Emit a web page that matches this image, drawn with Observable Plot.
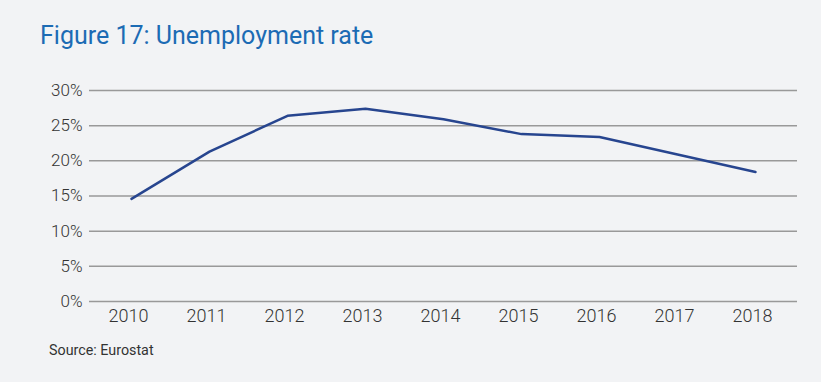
<!DOCTYPE html>
<html>
<head>
<meta charset="utf-8">
<script src="https://cdn.jsdelivr.net/npm/d3@7"></script>
<script src="https://cdn.jsdelivr.net/npm/@observablehq/plot@0.6"></script>
<style>
  html, body { margin: 0; padding: 0; background: #f2f3f5; }
  body { width: 821px; height: 382px; overflow: hidden; font-family: Roboto, "Noto Sans", sans-serif; }
  #title { height: 62px; box-sizing: border-box; padding: 23px 0 0 40px; font-size: 25px; color: #1c6bb4; line-height: 26px; }
  #chart svg { display: block; }
  #caption { padding: 10px 0 0 49px; font-size: 14.3px; color: #333; }
</style>
</head>
<body>
<div id="title">Figure 17: Unemployment rate</div>
<div id="chart"></div>
<div id="caption">Source: Eurostat</div>
<script>
const years = ["2010","2011","2012","2013","2014","2015","2016","2017","2018"];
const rates = [14.6, 21.3, 26.4, 27.4, 25.9, 23.8, 23.4, 20.9, 18.4];
const yTicks = [0, 5, 10, 15, 20, 25, 30];

const data = years.map((y, i) => ({year: y, rate: rates[i]}));

const chart = Plot.plot({
  width: 821,
  height: 270,
  marginLeft: 89,
  marginRight: 24,
  marginTop: 28,
  marginBottom: 31,
  style: { background: "#f2f3f5", fontFamily: "Roboto, sans-serif", fontSize: "17px", color: "#333", fontWeight: 300 },
  x: { type: "point", domain: years, padding: 0.5, label: null },
  y: { domain: [0, 30], label: null },
  marks: [
    Plot.ruleY(yTicks, { stroke: "#999", strokeWidth: 1.5, strokeOpacity: 1 }),
    Plot.axisY({ ticks: yTicks, tickSize: 0, tickPadding: 7, tickFormat: d => d + "%", fontSize: 17 }),
    Plot.axisX({ tickSize: 0, tickPadding: 8, fontSize: 18, dx: -3 }),
    Plot.line(data, { x: "year", y: "rate", stroke: "#27458f", strokeWidth: 2.5 })
  ]
});
document.getElementById("chart").append(chart);
</script>
</body>
</html>
